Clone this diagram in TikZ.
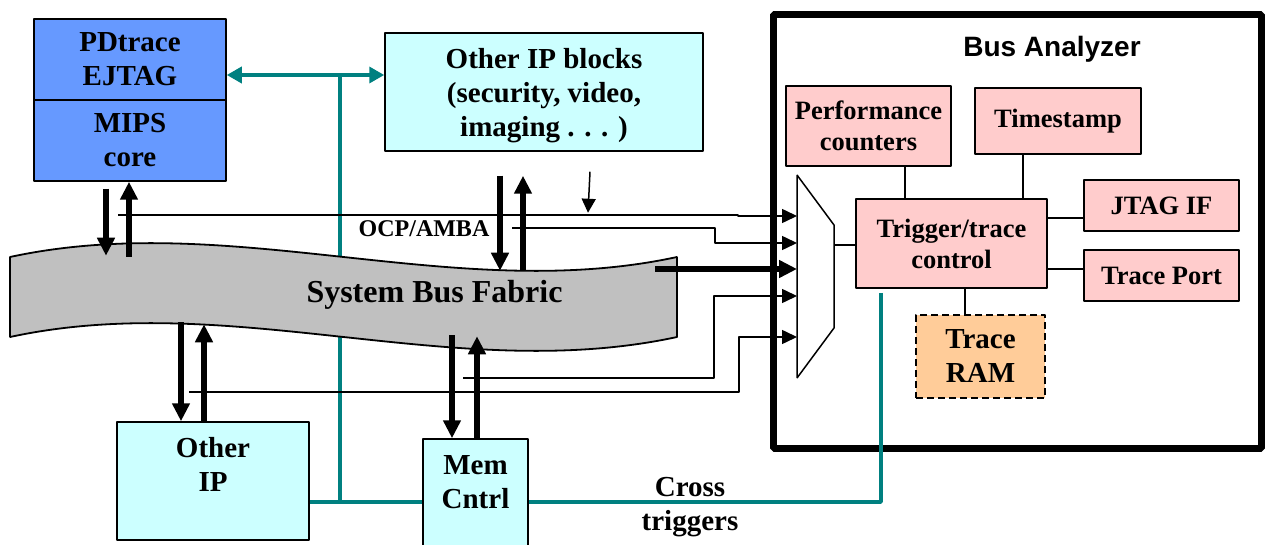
\documentclass[tikz,border=0pt]{standalone}
\usepackage{fontspec}
\setmainfont{Liberation Serif}
\newfontfamily\headfont{Liberation Sans}
\usetikzlibrary{arrows.meta}
\definecolor{coreblue}{HTML}{6699FF}
\definecolor{ipcyan}{HTML}{CCFFFF}
\definecolor{anapink}{HTML}{FFCCCC}
\definecolor{ramorange}{HTML}{FFCC99}
\definecolor{busgray}{HTML}{C0C0C0}
\definecolor{xtrig}{HTML}{008080}
\begin{document}
\begin{tikzpicture}[>=latex,line join=bevel,
  blk/.style={draw,line width=1.5pt,inner sep=0pt,align=center,font=\bfseries\fontsize{29pt}{34pt}\selectfont},
  anablk/.style={blk,fill=anapink,font=\bfseries\fontsize{26.5pt}{31pt}\selectfont},
  lbl/.style={inner sep=0pt,align=center,font=\bfseries\fontsize{29pt}{34pt}\selectfont},
  busarrow/.style={line width=5.5pt,-{Triangle[length=18pt,width=17pt]}},
  busarrowrev/.style={line width=5.5pt,{Triangle[length=18pt,width=17pt]}-},
  sig/.style={line width=1.5pt,-{Triangle[length=15pt,width=14pt]}},
  xline/.style={draw=xtrig,line width=3.5pt},
]
\useasboundingbox (0pt,0pt) rectangle (1265pt,544pt);
%%
\coordinate (xt_top) at (340pt,469pt);
  \coordinate (xt_bot) at (340pt,42pt);
  \draw [xline] (xt_top) -- (xt_bot);
%
\draw [fill=busgray,line width=1.8pt] (10pt,287pt) .. controls (232pt,335pt) and (455pt,239pt) .. (677pt,287pt) -- (677pt,207pt) .. controls (455pt,159pt) and (232pt,255pt) .. (10pt,207pt) -- cycle;
\node (node_bus) at (434.5pt,241pt) [lbl,anchor=base,font=\bfseries\fontsize{32pt}{36pt}\selectfont] {System Bus Fabric};
\node (node_ocp) at (424pt,315pt) [lbl,font=\bfseries\fontsize{24pt}{28pt}\selectfont] {OCP/AMBA};
%
\node (node_pdtrace) at (130pt,484.5pt) [blk,fill=coreblue,minimum width=192pt,minimum height=81pt] {PDtrace\\EJTAG};
  \node (node_mips) at (130pt,403.5pt) [blk,fill=coreblue,minimum width=192pt,minimum height=81pt] {MIPS\\core};
  \node (node_ipblocks) at (544pt,452pt) [blk,fill=ipcyan,minimum width=318pt,minimum height=118pt,label={[lbl,anchor=center,yshift=-63pt]north:Other IP blocks\\(security, video,\\imaging . . . )}] {};
  \node (node_otherip) at (213pt,63pt) [blk,fill=ipcyan,minimum width=192pt,minimum height=118pt,label={[lbl,anchor=center,yshift=-43pt]north:Other\\IP}] {};
  \node (node_mem) at (475.5pt,37pt) [blk,fill=ipcyan,minimum width=105pt,minimum height=136pt,label={[lbl,anchor=center,yshift=-43.5pt]north:Mem\\Cntrl}] {};
  \node (node_cross) at (690pt,37.3pt) [lbl] {Cross\\triggers};
%
\node (node_analyzer) at (1017.5pt,312.5pt) [draw,line width=7pt,minimum width=488pt,minimum height=434pt] {};
  \node (node_title) at (1052pt,487pt) [anchor=base,font=\headfont\bfseries\fontsize{28pt}{33pt}\selectfont] {Bus Analyzer};
  \node (node_perf) at (868.5pt,418pt) [anablk,minimum width=165pt,minimum height=80pt] {Performance\\counters};
  \node (node_time) at (1058pt,423pt) [anablk,minimum width=166pt,minimum height=66pt] {Timestamp};
  \node (node_trigger) at (951.5pt,300.5pt) [anablk,minimum width=191pt,minimum height=89pt] {Trigger/trace\\control};
  \node (node_jtag) at (1161.5pt,338.5pt) [anablk,minimum width=155pt,minimum height=51pt] {JTAG IF};
  \node (node_port) at (1161.5pt,268.5pt) [anablk,minimum width=155pt,minimum height=51pt] {Trace Port};
  \node (node_ram) at (980.5pt,187.5pt) [blk,fill=ramorange,dash pattern=on 7pt off 4pt,minimum width=129pt,minimum height=83pt] {Trace\\RAM};
%
\draw [line width=1.5pt] ([xshift=-46.5pt]node_trigger.north) -- ([xshift=36.5pt]node_perf.south);
  \draw [line width=1.5pt] ([xshift=71.5pt]node_trigger.north) -- ([xshift=-35pt]node_time.south);
  \draw [line width=1.5pt] ([yshift=25.5pt]node_trigger.east) -- ([yshift=-12.5pt]node_jtag.west);
  \draw [line width=1.5pt] ([yshift=-25.5pt]node_trigger.east) -- ([yshift=6.5pt]node_port.west);
  \draw [line width=1.5pt] ([xshift=13.5pt]node_trigger.south) -- ([xshift=-15.5pt]node_ram.north);
%
\draw [line width=1.5pt] (797pt,369pt) -- (834pt,319pt) -- (834pt,216pt) -- (797pt,166pt) -- cycle;
  \coordinate (mux_out) at (834pt,299pt);
  \draw [line width=1.5pt] (mux_out) -- (node_trigger.west |- mux_out);
  \coordinate (mux_in_0) at (797pt,328pt);
  \coordinate (mux_in_1) at (797pt,301pt);
  \coordinate (mux_in_2) at (797pt,275pt);
  \coordinate (mux_in_3) at (797pt,248pt);
  \coordinate (mux_in_4) at (797pt,207pt);
  \coordinate (src_0) at (118pt,329pt);
  \coordinate (src_1) at (512pt,316pt);
  \coordinate (src_2) at (655pt,275pt);
  \coordinate (src_3) at (463pt,166pt);
  \coordinate (src_4) at (189pt,152pt);
  \draw [sig] (src_0) -- ++(620pt,0pt) |- (mux_in_0);
  \draw [sig] (src_1) -- ++(203pt,0pt) |- (mux_in_1);
  \draw [busarrow] (src_2) -- (mux_in_2);
  \draw [sig] (src_3) -- ++(251pt,0pt) |- (mux_in_3);
  \draw [sig] (src_4) -- ++(550pt,0pt) |- (mux_in_4);
  \draw [sig,-{Triangle[length=14pt,width=14pt]}] ([xshift=46pt,yshift=-20pt]node_ipblocks.south) -- ++(-2pt,-41pt);
%
\draw [busarrow] ([xshift=-24pt,yshift=-7pt]node_mips.south) -- ++(0pt,-67pt);
  \draw [busarrowrev] ([xshift=-1pt]node_mips.south) -- ++(0pt,-75pt);
  \draw [busarrow] ([xshift=-44pt,yshift=-24pt]node_ipblocks.south) -- ++(0pt,-95pt);
  \draw [busarrowrev] ([xshift=-21pt,yshift=-24pt]node_ipblocks.south) -- ++(0pt,-94pt);
  \draw [busarrow] ([xshift=-32pt,yshift=99pt]node_otherip.north) -- ([xshift=-32pt]node_otherip.north);
  \draw [busarrowrev] ([xshift=-9pt,yshift=97pt]node_otherip.north) -- ([xshift=-9pt]node_otherip.north);
  \draw [busarrow] ([xshift=-23.5pt,yshift=103pt]node_mem.north) -- ([xshift=-23.5pt]node_mem.north);
  \draw [busarrowrev] ([xshift=1.5pt,yshift=102pt]node_mem.north) -- ([xshift=1.5pt]node_mem.north);
%
\draw [xline,{Triangle[length=15pt,width=16pt]}-{Triangle[length=15pt,width=16pt]}] ([yshift=-15.5pt]node_pdtrace.east) -- ([yshift=17pt]node_ipblocks.west);
  \draw [xline] (node_otherip.east |- xt_bot) -- (node_mem.west |- xt_bot);
  \draw [xline] ([xshift=-70.5pt,yshift=-4pt]node_trigger.south) |- (node_mem.east |- xt_bot);
%
\end{tikzpicture}
\end{document}
